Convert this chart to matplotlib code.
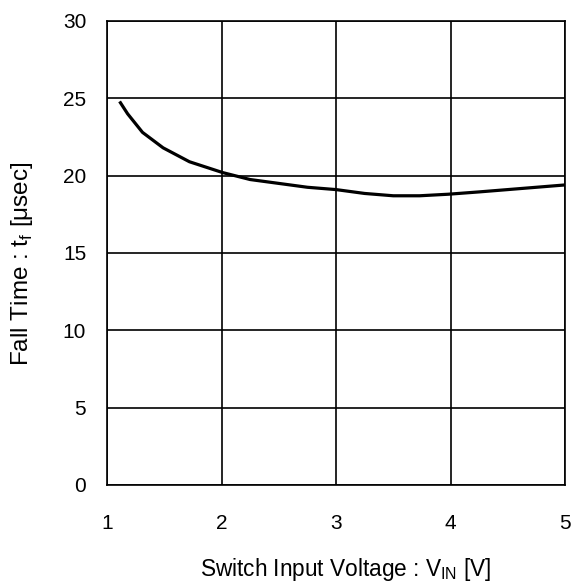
import matplotlib
matplotlib.use("Agg")
import matplotlib.pyplot as plt

plt.rcParams['font.family'] = ['Liberation Sans', 'DejaVu Sans']
plt.rcParams['mathtext.fontset'] = 'custom'
plt.rcParams['mathtext.rm'] = 'Liberation Sans'

vin = [1.11, 1.18, 1.31, 1.49, 1.72, 2.01, 2.25, 2.5, 2.75, 3.0, 3.25, 3.5, 3.73, 3.98, 4.25, 4.5, 4.75, 5.0]
tf = [24.8, 24.0, 22.8, 21.8, 20.9, 20.2, 19.75, 19.5, 19.25, 19.1, 18.85, 18.7, 18.7, 18.8, 18.95, 19.1, 19.25, 19.4]

xticks = [1, 2, 3, 4, 5]
yticks = [0, 5, 10, 15, 20, 25, 30]

fig = plt.figure(figsize=(5.79, 5.86), dpi=100)
ax = fig.add_axes([107/579, 1 - 485/586, (565-107)/579, (485-21)/586])
ax.plot(vin, tf, color='black', lw=2.3, solid_capstyle='butt')
ax.set_xlim(1, 5)
ax.set_ylim(0, 30)
ax.set_xticks(xticks)
ax.set_yticks(yticks)
ax.grid(True, color='black', lw=1.2)
ax.set_axisbelow(True)
for s in ax.spines.values():
    s.set_color('black')
    s.set_linewidth(1.2)
ax.tick_params(length=0, labelsize=15)
ax.tick_params(axis='x', pad=21)
ax.tick_params(axis='y', pad=15)
ax.set_xlabel(r'Switch Input Voltage : V$_\mathregular{IN}$ [V]', fontsize=16.3)
ax.set_ylabel(r'Fall Time : t$_\mathregular{f}$ [μsec]', fontsize=17.5)
ax.xaxis.set_label_coords(0.52, -0.152)
ax.yaxis.set_label_coords(-0.157, 0.476)
fig.savefig('out.png', dpi=100)
